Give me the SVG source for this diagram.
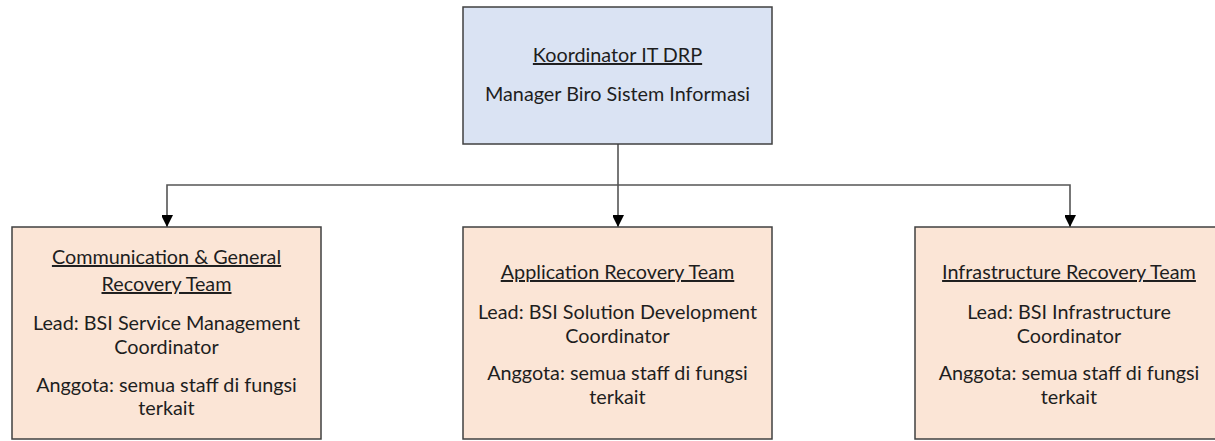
<svg xmlns="http://www.w3.org/2000/svg" width="1215" height="441" viewBox="0 0 1215 441">
<style>
.box{stroke:#404040;stroke-width:1.5}
.blue{fill:#dae3f3}
.peach{fill:#fbe5d6}
text{font-family:Lato,"Open Sans","Liberation Sans",sans-serif;font-size:19.8px;fill:#1e1e1e;text-anchor:middle}
.u{text-decoration:underline}
.conn{fill:none;stroke:#555;stroke-width:1.6}
</style>
<defs>
<marker id="arr" markerWidth="12" markerHeight="11" refX="12" refY="6" orient="auto" markerUnits="userSpaceOnUse">
<path d="M0,0 L12,6 L0,12 Z" fill="#000"/>
</marker>
</defs>
<rect width="1215" height="441" fill="#fff"/>
<g id="connectors">
<path class="conn" d="M618,144 V227" marker-end="url(#arr)"/>
<path class="conn" d="M618,185 H167 V227" marker-end="url(#arr)"/>
<path class="conn" d="M618,185 H1070 V227" marker-end="url(#arr)"/>
</g>
<g id="koordinator">
<rect class="box blue" x="463" y="7" width="309" height="137"/>
<text class="u" x="617.5" y="62">Koordinator IT DRP</text>
<text x="617.5" y="101">Manager Biro Sistem Informasi</text>
</g>
<g id="communication">
<rect class="box peach" x="12" y="227" width="309" height="212"/>
<text class="u" x="166.5" y="264">Communication &amp; General</text>
<text class="u" x="166.5" y="291">Recovery Team</text>
<text x="166.5" y="330">Lead: BSI Service Management</text>
<text x="166.5" y="354">Coordinator</text>
<text x="166.5" y="392">Anggota: semua staff di fungsi</text>
<text x="166.5" y="415">terkait</text>
</g>
<g id="application">
<rect class="box peach" x="463" y="227" width="309" height="212"/>
<text class="u" x="617.5" y="279">Application Recovery Team</text>
<text x="617.5" y="319">Lead: BSI Solution Development</text>
<text x="617.5" y="343">Coordinator</text>
<text x="617.5" y="380">Anggota: semua staff di fungsi</text>
<text x="617.5" y="404">terkait</text>
</g>
<g id="infrastructure">
<rect class="box peach" x="915" y="227" width="309" height="212"/>
<text class="u" x="1069" y="279">Infrastructure Recovery Team</text>
<text x="1069" y="319">Lead: BSI Infrastructure</text>
<text x="1069" y="343">Coordinator</text>
<text x="1069" y="380">Anggota: semua staff di fungsi</text>
<text x="1069" y="404">terkait</text>
</g>
</svg>
